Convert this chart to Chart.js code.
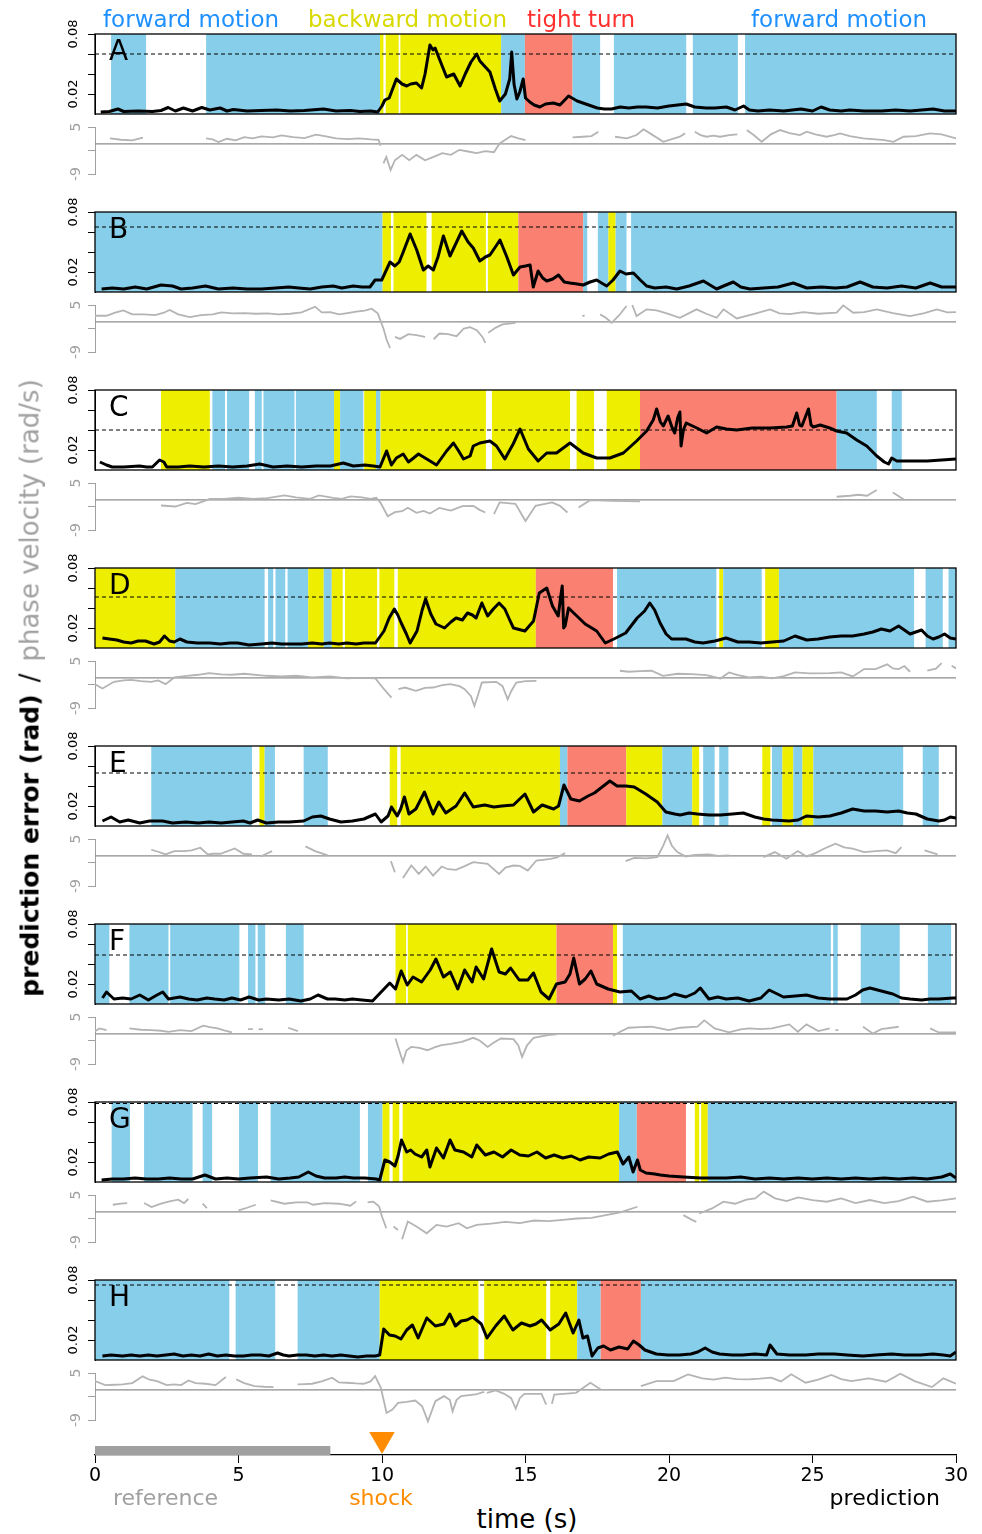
<!DOCTYPE html>
<html lang="en">
<head>
<meta charset="UTF-8">
<title>prediction error / phase velocity</title>
<script src="https://cdn.jsdelivr.net/npm/chart.js"></script>
<style>
  body { margin: 0; background: #fff; font-family: "DejaVu Sans", sans-serif; }
  #wrap { position: relative; width: 982px; height: 1534px; overflow: hidden; }
  #wrap canvas { position: absolute; }
  .txt { position: absolute; white-space: nowrap; line-height: 1; }
</style>
</head>
<body>
<div id="wrap"></div>
<script>
// ---- data ----
// behaviour bands: [start s, end s, state]  F = forward, B = backward, T = tight turn
const segA = [[0.56,1.78,'F'],[3.87,9.93,'F'],[9.93,10.05,'B'],[10.13,10.58,'B'],[10.64,14.15,'B'],[14.15,14.98,'F'],[14.98,16.64,'T'],[16.64,17.6,'F'],[18.08,20.6,'F'],[20.83,22.4,'F'],[22.65,30,'F']];
const segB = [[0,10.02,'F'],[10.02,10.31,'B'],[10.4,11.55,'B'],[11.73,13.62,'B'],[13.69,14.75,'B'],[14.75,17.01,'T'],[17.01,17.15,'F'],[17.52,17.89,'F'],[17.89,18.14,'B'],[18.14,18.52,'F'],[18.68,30,'F']];
const segC = [[2.3,4.0,'B'],[4.09,4.53,'F'],[4.6,5.37,'F'],[5.57,5.81,'F'],[5.87,6.95,'F'],[7.0,8.33,'F'],[8.33,8.54,'B'],[8.54,9.35,'F'],[9.38,9.79,'B'],[9.79,9.95,'F'],[9.95,13.62,'B'],[13.83,16.55,'B'],[16.78,17.39,'B'],[17.83,18.99,'B'],[18.99,25.84,'T'],[25.84,27.24,'F'],[27.76,28.11,'F']];
const segD = [[0,2.8,'B'],[2.8,5.91,'F'],[6.03,6.21,'F'],[6.29,6.63,'F'],[6.71,7.43,'F'],[7.43,7.97,'B'],[7.97,8.25,'F'],[8.25,8.63,'B'],[8.71,9.83,'B'],[9.91,10.43,'B'],[10.55,15.36,'B'],[15.36,18.05,'T'],[18.19,21.65,'F'],[21.75,21.89,'B'],[21.89,23.23,'F'],[23.35,23.83,'B'],[23.83,28.54,'F'],[28.94,29.54,'F'],[29.74,30,'F']];
const segE = [[1.96,5.47,'F'],[5.73,5.91,'B'],[5.91,6.27,'F'],[7.27,8.11,'F'],[10.27,10.53,'B'],[10.65,16.2,'B'],[16.2,16.46,'F'],[16.46,18.51,'T'],[18.51,19.77,'B'],[19.77,20.81,'F'],[20.81,21.05,'B'],[21.19,21.59,'F'],[21.75,22.07,'F'],[23.25,23.53,'B'],[23.59,23.95,'F'],[23.95,24.33,'B'],[24.33,24.65,'F'],[24.65,25.03,'B'],[25.03,28.16,'F'],[28.84,29.4,'F']];
const segF = [[0,0.5,'F'],[1.2,2.56,'F'],[2.62,5.03,'F'],[5.33,5.59,'F'],[5.67,5.93,'F'],[6.65,7.27,'F'],[10.47,10.84,'B'],[10.9,16.08,'B'],[16.08,18.05,'T'],[18.05,18.19,'B'],[18.39,25.64,'F'],[25.72,25.88,'F'],[26.68,28.04,'F'],[29.02,29.83,'F']];
const segG = [[0.58,1.22,'F'],[1.71,3.4,'F'],[3.75,4.08,'F'],[5.02,5.68,'F'],[6.12,9.23,'F'],[9.51,10.02,'F'],[10.02,10.26,'B'],[10.37,10.6,'B'],[10.72,18.26,'B'],[18.26,18.88,'F'],[18.88,20.59,'T'],[20.9,21.05,'B'],[21.12,21.35,'B'],[21.35,30,'F']];
const segH = [[0,4.68,'F'],[4.9,6.28,'F'],[7.06,9.92,'F'],[9.92,13.36,'B'],[13.56,15.72,'B'],[15.86,16.8,'B'],[16.8,17.62,'F'],[17.62,19.02,'T'],[19.02,30,'F']];

// prediction error, [time s, error in 0.001 rad]
const errA = [[0.2,2],[0.5,2.5],[0.8,5],[1.0,2.5],[1.5,3],[2.0,2.5],[2.3,3.5],[2.55,6.5],[2.8,3],[3.08,6],[3.4,3],[3.72,6.5],[4.0,4],[4.36,6],[4.6,3],[4.82,4.5],[5.3,3],[5.8,3.5],[6.33,4],[6.8,3],[7.3,3.5],[7.96,5],[8.4,3],[8.9,3.5],[9.23,2.5],[9.6,3],[9.85,2],[10.0,8],[10.1,14],[10.25,16],[10.5,35],[10.7,30],[10.86,28],[11.0,30],[11.2,31],[11.38,26],[11.5,40],[11.67,69],[11.78,64],[11.85,66],[12.0,55],[12.25,37],[12.5,40],[12.72,28],[12.9,40],[13.1,52],[13.3,60],[13.41,53],[13.6,47],[13.76,42],[13.95,25],[14.1,13],[14.3,20],[14.45,35],[14.52,62],[14.6,30],[14.7,15],[14.8,22],[14.92,35],[15.0,16],[15.15,12],[15.3,9],[15.5,7],[15.7,10],[15.97,11],[16.2,9],[16.5,18],[16.8,13],[17.0,11],[17.3,8],[17.5,6],[17.75,5],[18.0,5],[18.3,7],[18.6,6],[18.9,7],[19.2,7],[19.6,6],[20.0,8],[20.3,9],[20.6,10],[20.9,7],[21.3,6],[21.6,6],[22.0,7],[22.3,4],[22.6,8],[22.8,4],[23.1,3],[23.5,4],[24.0,3],[24.6,5],[25.0,3],[25.3,7],[25.6,4],[26.0,3],[26.3,4],[26.8,3],[27.4,3],[27.9,4],[28.4,3],[28.8,4],[29.2,5],[29.6,3],[30,3]];
const errB = [[0.23,3],[0.6,4],[1.0,3],[1.4,5],[1.8,3],[2.3,7],[2.7,6],[3.0,3],[3.4,4],[3.85,6],[4.3,3],[4.8,4],[5.3,3],[5.8,3],[6.3,4],[6.75,5],[7.1,4],[7.5,3],[7.9,5],[8.3,6],[8.6,4],[9.0,6],[9.3,5],[9.58,5],[9.76,12],[9.99,12],[10.28,30],[10.45,26],[10.6,30],[10.74,40],[10.98,58],[11.21,42],[11.44,22],[11.61,26],[11.79,22],[11.95,35],[12.14,56],[12.37,36],[12.55,47],[12.78,61],[13.0,50],[13.18,44],[13.41,31],[13.6,35],[13.76,37],[13.95,45],[14.11,52],[14.35,35],[14.58,17],[14.81,25],[15.0,26],[15.16,27],[15.27,5],[15.44,21],[15.6,14],[15.74,11],[15.95,13],[16.15,17],[16.35,10],[16.55,9],[16.8,8],[17.01,7],[17.25,10],[17.48,12],[17.65,9],[17.83,6],[18.05,12],[18.29,21],[18.5,18],[18.76,19],[19.0,12],[19.22,6],[19.5,4],[19.9,5],[20.27,3],[20.7,6],[21.2,11],[21.66,3],[21.9,6],[22.24,10],[22.5,5],[22.82,3],[23.3,4],[23.8,5],[24.33,9],[24.8,4],[25.3,5],[25.8,4],[26.2,5],[26.66,10],[27.1,5],[27.6,4],[28.1,6],[28.6,4],[29.1,9],[29.5,5],[30,5]];
const errC = [[0.17,8],[0.4,5],[0.6,3],[1.0,3],[1.55,4],[1.8,3],[2.0,3],[2.25,10],[2.4,8],[2.5,3],[2.9,3],[3.3,4],[3.8,3],[4.3,4],[4.8,3],[5.3,4],[5.74,6],[6.2,3],[6.7,4],[7.2,3],[7.7,4],[8.2,4],[8.65,7],[9.0,4],[9.4,5],[9.7,4],[9.93,3],[10.16,19],[10.33,5],[10.5,12],[10.74,16],[10.92,8],[11.1,12],[11.27,16],[11.56,11],[11.9,5],[12.25,19],[12.49,27],[12.65,20],[12.84,11],[13.07,14],[13.18,24],[13.41,27],[13.76,29],[13.99,24],[14.28,11],[14.57,26],[14.81,41],[15.1,21],[15.44,9],[15.74,17],[16.08,17],[16.55,27],[17.01,17],[17.48,12],[17.94,12],[18.41,17],[18.87,29],[19.22,39],[19.45,50],[19.57,61],[19.7,48],[19.8,44],[19.97,54],[20.1,43],[20.2,37],[20.3,52],[20.38,58],[20.42,24],[20.5,40],[20.6,47],[20.97,42],[21.31,37],[21.66,43],[22.0,41],[22.36,40],[22.9,42],[23.52,42],[24.1,43],[24.3,44],[24.45,57],[24.55,45],[24.63,44],[24.86,61],[24.95,45],[25.03,43],[25.27,45],[25.6,42],[25.84,39],[26.19,37],[26.54,30],[26.89,24],[27.24,14],[27.5,8],[27.65,6],[27.76,12],[27.94,9],[28.5,9],[29.0,9],[29.5,10],[30,11]];
const errD = [[0.26,10],[0.5,9],[0.76,8],[1.0,6],[1.26,5],[1.5,7],[1.76,7],[2.06,4],[2.25,6],[2.42,12],[2.6,7],[2.76,6],[2.96,9],[3.2,6],[3.56,5],[4.0,5],[4.37,4],[4.7,5],[4.97,5],[5.37,3],[5.8,4],[6.17,5],[6.5,4],[6.77,4],[7.2,4],[7.57,5],[7.9,4],[8.17,5],[8.5,4],[8.77,5],[9.1,4],[9.37,5],[9.77,5],[10.07,17],[10.25,30],[10.43,39],[10.55,33],[10.67,25],[10.85,14],[10.98,5],[11.22,17],[11.4,38],[11.52,49],[11.7,34],[11.88,24],[12.18,20],[12.4,26],[12.58,30],[12.8,28],[12.98,35],[13.15,33],[13.28,30],[13.48,45],[13.68,32],[13.88,39],[14.08,45],[14.28,39],[14.45,28],[14.58,20],[14.98,17],[15.28,27],[15.48,55],[15.74,60],[15.94,42],[16.14,32],[16.22,50],[16.28,62],[16.33,20],[16.38,22],[16.5,40],[16.68,35],[17.08,24],[17.48,17],[17.78,5],[18.08,9],[18.49,15],[18.89,30],[19.15,37],[19.33,45],[19.5,38],[19.69,25],[19.9,14],[20.09,9],[20.59,9],[20.9,6],[21.19,5],[21.6,7],[21.99,10],[22.4,6],[22.79,6],[23.2,5],[23.59,6],[24.0,7],[24.39,12],[24.8,8],[25.2,9],[25.6,11],[26.0,12],[26.4,12],[26.8,14],[27.1,16],[27.4,19],[27.7,17],[28.0,22],[28.2,18],[28.4,14],[28.6,16],[28.8,18],[29.0,12],[29.2,9],[29.4,11],[29.6,14],[29.8,10],[30,9]];
const errE = [[0.26,5],[0.56,9],[0.86,4],[1.16,6],[1.56,3],[1.9,5],[2.36,5],[2.7,3],[3.16,4],[3.6,3],[3.97,4],[4.4,3],[4.77,4],[5.17,5],[5.4,3],[5.67,6],[5.97,3],[6.4,4],[6.77,4],[7.27,5],[7.57,9],[7.87,10],[8.17,7],[8.57,4],[8.97,5],[9.37,7],[9.77,12],[9.97,4],[10.21,10],[10.33,19],[10.53,10],[10.65,17],[10.78,29],[10.94,12],[11.18,17],[11.48,34],[11.78,12],[11.98,24],[12.22,13],[12.58,20],[12.88,33],[13.18,19],[13.58,21],[13.9,19],[14.18,20],[14.58,21],[14.98,32],[15.28,14],[15.58,21],[15.98,17],[16.15,20],[16.34,41],[16.58,27],[16.88,25],[17.18,30],[17.4,33],[17.58,37],[17.94,45],[18.19,40],[18.5,40],[18.79,39],[19.19,32],[19.59,24],[19.89,14],[20.2,12],[20.39,11],[20.7,13],[20.99,12],[21.4,11],[21.79,11],[22.2,12],[22.59,13],[22.99,9],[23.3,7],[23.59,6],[24.19,5],[24.5,6],[24.79,10],[25.2,9],[25.6,10],[26.0,13],[26.4,17],[26.8,15],[27.2,15],[27.6,14],[28.0,15],[28.3,13],[28.6,12],[29.0,7],[29.4,5],[29.6,6],[29.8,9],[30,8]];
const errF = [[0.26,6],[0.4,12],[0.66,5],[0.96,6],[1.26,5],[1.56,9],[1.86,4],[2.16,9],[2.36,12],[2.56,5],[2.96,7],[3.26,5],[3.56,4],[3.9,6],[4.17,5],[4.5,4],[4.77,6],[5.07,4],[5.37,7],[5.7,4],[5.97,5],[6.4,4],[6.77,5],[7.17,3],[7.5,5],[7.77,9],[8.1,5],[8.37,5],[8.7,4],[8.97,5],[9.3,4],[9.67,3],[9.97,12],[10.27,21],[10.47,15],[10.67,33],[10.88,19],[11.08,27],[11.38,22],[11.68,34],[11.88,45],[12.14,27],[12.38,32],[12.64,15],[12.88,34],[13.14,22],[13.28,37],[13.54,25],[13.82,55],[14.08,32],[14.3,30],[14.48,36],[14.78,24],[15.08,24],[15.28,31],[15.54,12],[15.82,5],[16.08,20],[16.38,22],[16.55,30],[16.68,46],[16.88,20],[17.08,25],[17.28,33],[17.48,20],[17.88,15],[18.29,12],[18.69,13],[18.99,5],[19.3,8],[19.59,5],[19.9,6],[20.19,10],[20.59,7],[20.9,11],[21.09,16],[21.39,5],[21.7,7],[21.99,5],[22.4,6],[22.79,3],[23.2,6],[23.49,14],[23.99,7],[24.4,8],[24.79,9],[25.2,6],[25.6,5],[26.2,5],[26.5,9],[26.75,14],[27.0,16],[27.4,13],[27.8,10],[28.1,6],[28.4,5],[28.8,4],[29.1,5],[29.4,5],[29.9,6],[30,6]];
const errG = [[0.23,2],[0.6,3],[1.0,3],[1.4,4],[1.8,3],[2.2,3],[2.6,4],[3.0,3],[3.4,3],[3.83,7],[4.2,3],[4.6,4],[5.0,3],[5.4,4],[5.98,5],[6.4,3],[6.8,4],[7.1,5],[7.43,10],[7.7,6],[8.0,4],[8.4,4],[8.7,5],[9.0,4],[9.4,4],[9.8,3],[9.92,2],[10.1,22],[10.27,20],[10.45,16],[10.56,26],[10.68,42],[10.86,30],[11.0,32],[11.15,28],[11.38,25],[11.56,32],[11.67,15],[11.9,34],[12.14,24],[12.37,42],[12.54,32],[12.84,30],[13.13,25],[13.3,37],[13.6,27],[13.9,30],[14.2,25],[14.5,32],[14.8,27],[15.1,26],[15.4,30],[15.7,24],[16.0,27],[16.3,24],[16.6,26],[16.9,22],[17.2,25],[17.6,24],[17.9,28],[18.2,30],[18.4,18],[18.6,25],[18.75,10],[18.9,22],[19.0,12],[19.2,9],[19.5,8],[19.7,7],[20.0,6],[20.5,5],[21.1,4],[21.5,4],[22,4],[22.5,5],[23,3],[23.5,4],[24,3],[24.5,4],[25,3],[25.5,4],[26,3],[26.5,4],[27,3],[27.5,4],[28,3],[28.5,4],[29,3],[29.5,5],[29.8,8],[30,4]];
const errH = [[0.26,4],[0.56,5],[0.96,4],[1.26,5],[1.56,4],[1.86,5],[2.16,4],[2.46,5],[2.76,6],[3.06,4],[3.36,5],[3.66,4],[3.96,6],[4.26,4],[4.56,5],[4.86,4],[5.16,4],[5.46,5],[5.76,5],[6.06,4],[6.36,7],[6.56,5],[6.76,4],[7.06,5],[7.36,5],[7.66,4],[7.96,5],[8.26,4],[8.56,5],[8.86,4],[9.16,3],[9.46,4],[9.76,4],[9.92,5],[10.06,31],[10.26,25],[10.46,24],[10.66,21],[10.86,30],[11.06,35],[11.26,22],[11.56,42],[11.86,34],[12.16,36],[12.36,46],[12.56,34],[12.76,39],[12.96,40],[13.16,43],[13.46,36],[13.66,22],[13.96,34],[14.26,44],[14.56,30],[14.86,37],[15.16,34],[15.36,36],[15.56,40],[15.86,30],[16.16,36],[16.4,47],[16.66,27],[16.86,40],[17.0,22],[17.16,24],[17.32,4],[17.52,12],[17.72,14],[17.96,10],[18.26,13],[18.56,11],[18.76,19],[18.96,15],[19.16,10],[19.56,6],[19.96,5],[20.36,5],[20.76,6],[21.0,8],[21.26,12],[21.5,8],[21.76,6],[22.2,5],[22.56,5],[23.0,6],[23.4,5],[23.52,15],[23.76,6],[24.2,5],[24.76,5],[25.2,6],[25.76,6],[26.2,5],[26.76,4],[27.2,5],[27.76,6],[28.2,5],[28.76,5],[29.2,6],[29.56,5],[29.8,4],[30,8]];

// phase velocity, [time s, rad/s]; null = no value
const velA = [[0.52,1.6],[0.9,1.2],[1.3,1.0],[1.67,1.8],[2.5,null],[3.87,1.6],[4.1,1.3],[4.3,0.5],[4.6,1.5],[4.9,1.0],[5.2,2.0],[5.5,1.6],[5.8,2.2],[6.2,1.9],[6.5,2.5],[6.9,2.0],[7.3,1.7],[7.7,2.7],[8.0,2.3],[8.4,1.6],[8.8,1.4],[9.2,1.6],[9.6,1.3],[9.88,1.2],[9.95,-0.6],[10.0,null],[10.05,-5.8],[10.15,-3.9],[10.3,-7.8],[10.45,-4.9],[10.7,-3.3],[10.95,-4.9],[11.2,-3.3],[11.5,-4.9],[11.8,-3.9],[12.1,-2.8],[12.4,-3.3],[12.7,-1.8],[13.0,-2.3],[13.3,-2.8],[13.6,-2.2],[13.9,-2.5],[14.1,0.1],[14.5,2.3],[14.75,1.6],[15.0,1.1],[15.8,null],[16.64,1.9],[17.0,2.1],[17.3,2.3],[17.54,3.6],[17.8,null],[18.12,2.1],[18.53,1.6],[18.87,2.6],[19.11,4.3],[19.34,3.1],[19.8,0.6],[20.38,2.1],[20.56,3.1],[20.7,null],[20.9,3.6],[21.1,2.6],[21.31,2.1],[21.55,2.4],[21.78,2.1],[22.1,2.6],[22.38,2.8],[22.55,null],[22.71,4.1],[22.95,2.6],[23.23,0.6],[23.55,2.8],[23.87,4.1],[24.2,3.2],[24.56,2.6],[24.8,3.6],[25.1,2.8],[25.49,2.1],[25.75,2.6],[25.96,3.1],[26.3,2.3],[26.77,1.6],[27.2,1.3],[27.5,1.1],[27.82,0.6],[28.17,2.1],[28.6,2.3],[29.09,3.1],[29.5,2.8],[30,1.6]];
const velB = [[0,1.8],[0.4,1.8],[0.7,2.7],[0.99,3.4],[1.3,2.2],[1.7,2.2],[2.1,2.0],[2.4,2.7],[2.6,3.5],[2.9,2.2],[3.3,1.4],[3.7,2.0],[4.1,2.2],[4.4,2.8],[4.8,2.5],[5.2,2.6],[5.6,2.4],[6.0,2.5],[6.4,2.2],[6.8,2.4],[7.2,2.8],[7.67,4.5],[7.9,2.8],[8.2,2.9],[8.5,2.2],[8.8,2.6],[9.1,3.0],[9.4,3.3],[9.64,3.9],[9.85,2.5],[9.93,0.7],[10.05,-2],[10.16,-5.3],[10.28,-7.8],[10.36,null],[10.45,-4.5],[10.63,-5.1],[10.92,-3.7],[11.2,-4.0],[11.5,-4.5],[11.65,null],[11.8,-5.2],[12.0,-3.5],[12.3,-3.7],[12.6,-4.3],[12.85,-2],[13.07,-1.6],[13.3,-2.5],[13.5,-4.5],[13.6,-6.3],[13.64,null],[13.7,-3.3],[13.95,-1.8],[14.2,-0.8],[14.65,-0.3],[15,null],[16.98,1.7],[17.06,1.9],[17.3,null],[17.6,2.2],[17.8,1.2],[18.0,-0.3],[18.25,1.8],[18.52,4.7],[18.6,null],[18.72,5.0],[18.87,1.7],[19.22,3.7],[19.57,3.4],[19.95,2.4],[20.38,1.2],[20.96,3.7],[21.3,2.4],[21.66,1.2],[21.9,3.7],[22.36,1.0],[22.94,2.3],[23.52,3.7],[23.85,2.5],[24.21,2.3],[24.68,2.9],[25.2,2.4],[25.84,2.7],[26.07,4.9],[26.42,2.7],[26.8,2.9],[27.24,3.7],[27.8,2.6],[28.4,1.7],[28.9,2.6],[29.33,3.7],[29.7,2.8],[30,2.9]];
const velC = [[2.3,-1.7],[2.8,-2.0],[3.2,-0.9],[3.5,-1.3],[3.8,-0.4],[4.0,0.3],[4.5,0.3],[5.0,0.6],[5.5,0.3],[6.0,0.5],[6.6,1.3],[7.0,0.7],[7.5,0.3],[7.8,1.3],[8.3,0.6],[8.6,0.3],[8.9,1.0],[9.3,0.7],[9.6,0.3],[9.8,0.6],[9.95,-0.9],[10.2,-4.9],[10.45,-3.7],[10.7,-3.4],[10.9,-2.4],[11.2,-3.9],[11.45,-3.3],[11.67,-4.1],[12.0,-2.4],[12.4,-3.2],[12.8,-1.9],[13.18,-1.8],[13.4,-3.0],[13.6,-3.8],[13.7,null],[13.9,-4.3],[14.1,-0.8],[14.65,-1.2],[15.0,-6.3],[15.35,-1.8],[15.93,-0.8],[16.2,-1.8],[16.46,-3.8],[16.65,null],[16.85,-2.3],[17.25,-0.1],[18.0,-0.3],[18.99,-0.5],[19.5,null],[25.84,0.9],[26.3,1.2],[26.6,1.5],[26.9,1.2],[27.24,2.9],[27.5,null],[27.8,2.2],[28.2,0]];
const velD = [[0,-1.9],[0.26,-3.2],[0.66,-1.2],[1.0,-0.8],[1.26,-0.6],[1.6,-1.0],[1.96,-1.2],[2.2,-0.8],[2.46,-1.9],[2.76,0.1],[3.2,0.6],[3.6,0.9],[3.97,1.4],[4.4,1.0],[4.77,0.9],[5.2,1.2],[5.97,0.6],[6.5,0.4],[7.0,0.6],[7.57,0.1],[8.2,0.4],[8.77,-0.2],[9.3,0.0],[9.77,-0.2],[10.07,-3.4],[10.33,-5.9],[10.45,null],[10.57,-3.4],[10.8,-2.9],[11.18,-3.9],[11.5,-3.0],[11.78,-2.9],[12.1,-2.2],[12.38,-1.9],[12.7,-2.5],[12.88,-3.4],[13.1,-5.5],[13.22,-8.4],[13.35,-5],[13.48,-1.4],[13.98,-1.2],[14.2,-2.5],[14.38,-6.4],[14.5,-4],[14.68,-1.4],[15.0,-1.0],[15.38,-0.9],[16,null],[18.29,2.1],[18.6,1.8],[19.0,2.0],[19.39,2.1],[19.79,0.6],[20.3,1.2],[20.79,1.1],[21.3,0.8],[21.79,-0.2],[22.09,1.6],[22.4,0.8],[22.79,0.1],[23.2,0.3],[23.59,-0.2],[24.0,0.5],[24.39,1.6],[24.9,1.3],[25.6,1.4],[26.0,1.6],[26.4,0.4],[26.8,2.6],[27.2,2.6],[27.6,4.0],[27.8,2.8],[28.0,2.6],[28.2,3.5],[28.4,1.8],[28.7,null],[29.0,2.1],[29.3,2.7],[29.5,4.4],[29.65,null],[29.85,3.6],[30,2.8]];
const velE = [[1.96,1.8],[2.2,1.2],[2.46,0.4],[2.76,1.4],[3.1,1.4],[3.36,1.6],[3.67,2.4],[3.93,0.4],[4.1,0.6],[4.37,0.6],[4.87,2.2],[5.17,0.6],[5.47,0.4],[5.6,null],[5.77,-0.2],[6.17,1.4],[6.4,null],[7.33,2.8],[7.67,1.4],[8.11,0.1],[9,null],[10.31,-1.6],[10.45,-4.9],[10.6,null],[10.73,-6.6],[11.02,-2.9],[11.28,-5.4],[11.52,-3.2],[11.78,-5.9],[12.08,-3.2],[12.3,-4.0],[12.58,-4.2],[12.9,-3.0],[13.18,-1.9],[13.68,-2.4],[14.08,-5.4],[14.3,-3.5],[14.58,-2.9],[14.8,-3.0],[15.08,-4.4],[15.38,-1.4],[15.88,-0.9],[16.1,-0.5],[16.38,0.8],[17,null],[18.49,-1.6],[18.79,-0.6],[19.2,-0.8],[19.59,-0.4],[19.8,3.0],[19.95,6.1],[20.1,3.0],[20.29,1.1],[20.59,-0.2],[20.9,0.3],[21.39,0.4],[21.7,0.0],[22.09,0.1],[22.5,null],[23.29,-0.4],[23.69,1.1],[24.09,-0.9],[24.49,1.4],[24.79,-0.2],[25.1,0.8],[25.4,2.1],[25.8,3.6],[26.1,2.5],[26.4,2.1],[26.8,1.1],[27.2,1.4],[27.6,1.6],[27.9,0.8],[28.1,2.6],[28.5,null],[28.9,1.6],[29.36,0.4]];
const velF = [[0,0.8],[0.16,1.6],[0.4,1.1],[0.7,null],[1.2,1.6],[1.6,1.2],[1.96,1.1],[2.3,0.9],[2.56,0.6],[2.96,1.1],[3.36,0.8],[3.77,2.4],[4.0,2.0],[4.27,1.6],[4.5,1.0],[4.77,0.4],[5.0,null],[5.33,1.4],[5.5,1.4],[5.6,null],[5.7,1.3],[5.85,1.4],[6.2,null],[6.73,1.8],[7.07,0.8],[8,null],[10.47,-1.4],[10.6,-5],[10.73,-8.4],[10.85,-5],[11.02,-3.9],[11.3,-4.2],[11.58,-4.9],[11.85,-4.0],[12.08,-3.4],[12.4,-3.0],[12.78,-2.4],[13.18,-1.2],[13.4,-2.0],[13.68,-3.9],[13.9,-2.6],[14.14,-1.4],[14.58,-1.6],[14.75,-3.5],[14.88,-6.9],[15.05,-3.5],[15.28,-1.2],[15.78,-0.4],[16.08,-0.2],[17,null],[18.05,-0.6],[18.3,0.6],[18.59,1.8],[19.0,2.0],[19.39,2.1],[19.99,1.1],[20.39,1.8],[20.99,2.1],[21.23,4.0],[21.59,1.6],[22.09,0.4],[22.5,1.3],[22.79,1.6],[23.2,1.4],[23.59,1.6],[24.19,2.8],[24.49,0.6],[24.79,2.8],[25.2,0.8],[25.6,1.6],[25.75,null],[25.8,1.1],[25.9,1.1],[26.2,null],[26.76,2.1],[27.1,0.1],[27.4,1.4],[28.0,2.1],[28.5,null],[29.1,1.6],[29.4,0.4],[30,0.4]];
const velG = [[0.62,2.1],[0.9,2.4],[1.12,2.6],[1.4,null],[1.71,2.6],[1.97,1.4],[2.3,2.4],[2.6,3.1],[2.9,3.6],[3.1,2.6],[3.25,3.8],[3.5,null],[3.75,2.4],[3.9,1.1],[4.5,null],[5.0,0.4],[5.3,1.2],[5.6,2.1],[5.9,null],[6.12,3.4],[6.6,2.4],[7.0,2.8],[7.4,2.8],[7.6,2.1],[8.0,2.6],[8.5,2.4],[8.9,1.8],[9.1,3.1],[9.3,null],[9.5,2.8],[9.7,3.0],[9.9,1.6],[10.0,-1.4],[10.15,-4.9],[10.3,null],[10.4,-4.4],[10.56,-5.4],[10.62,null],[10.7,-8.2],[10.9,-2.9],[11.2,-4.4],[11.56,-6.4],[11.9,-3.9],[12.25,-4.4],[12.67,-3.4],[12.96,-4.9],[13.3,-3.9],[13.8,-3.5],[14.3,-3.0],[14.8,-3.4],[15.3,-2.6],[15.8,-2.8],[16.3,-2.4],[16.8,-2.0],[17.3,-1.8],[17.8,-1.0],[18.3,-0.2],[18.9,1.5],[19.5,null],[20.5,-1.0],[20.8,-2.4],[20.95,-3.0],[21.0,null],[21.05,-0.5],[21.5,1.0],[21.9,3.0],[22.3,2.4],[22.7,3.6],[23.0,4.0],[23.3,6.0],[23.7,4.0],[24.1,3.2],[24.5,4.3],[25.0,3.5],[25.5,3.0],[26.0,4.0],[26.5,2.6],[27.0,3.5],[27.5,2.6],[28.0,3.2],[28.5,4.5],[29.0,3.0],[29.5,3.4],[30,4.0]];
const velH = [[0,2.6],[0.36,1.4],[0.7,1.5],[0.96,1.6],[1.3,2.0],[1.66,4.0],[1.9,3.0],[2.16,2.6],[2.5,1.4],[2.76,1.6],[3.0,1.4],[3.26,2.8],[3.5,2.0],[3.86,1.8],[4.2,1.4],[4.56,3.8],[4.75,null],[4.92,3.1],[5.2,2.0],[5.56,1.1],[5.9,0.9],[6.22,0.8],[6.6,null],[7.06,1.6],[7.3,1.7],[7.56,1.8],[7.9,2.5],[8.26,3.6],[8.5,2.2],[8.76,2.1],[9.1,1.9],[9.36,1.8],[9.6,2.5],[9.76,4.1],[9.96,0.6],[10.16,-6.9],[10.36,-5.9],[10.56,-3.9],[10.86,-3.6],[11.16,-3.2],[11.4,-4.9],[11.6,-9.4],[11.86,-3.4],[12.16,-1.9],[12.36,-3],[12.46,-6.4],[12.6,-3],[12.76,-1.9],[13.26,-1.4],[13.56,-0.6],[13.6,null],[13.66,-0.9],[13.96,-0.2],[14.26,-1.2],[14.5,-2.5],[14.66,-5.6],[14.8,-2.5],[14.96,-1.2],[15.56,-1.2],[15.72,-4.4],[15.8,null],[15.92,-4.2],[16.0,-1.4],[16.76,-0.9],[17.26,2.1],[17.62,0.1],[18,null],[19.02,1.1],[19.56,2.6],[20.16,2.6],[20.66,4.6],[21.16,3.4],[21.56,3.0],[21.96,3.6],[22.36,3.2],[22.76,3.1],[23.16,3.3],[23.56,3.6],[23.9,2.5],[24.26,4.6],[24.76,2.1],[25.2,3.0],[25.66,4.4],[26.0,3.2],[26.36,2.6],[26.96,3.4],[27.56,2.4],[28.06,4.8],[28.56,2.6],[29.16,0.8],[29.56,3.4],[30,1.8]];

// error threshold (dashed), 0.001 rad
const thresholds = [60, 65, 40, 51, 53, 49, 78.5, 75];
const panelLetters = ['A','B','C','D','E','F','G','H'];
const errTicks = [20, 40, 60, 80];
const errTickLabels = ['0.02', '', '', '0.08'];
const velTicks = [5, -2, -9];
const velTickLabels = ['5', '', '-9'];
const timeTicks = [0, 5, 10, 15, 20, 25, 30];
const refWindow = [0, 8.2];
const shockTime = 10;
const stateNames = ['forward motion', 'backward motion', 'tight turn', 'forward motion'];

const segs = [segA, segB, segC, segD, segE, segF, segG, segH];
const errs = [errA, errB, errC, errD, errE, errF, errG, errH];
const vels = [velA, velB, velC, velD, velE, velF, velG, velH];

// ---- drawing ----
Chart.defaults.font.family = '"DejaVu Sans", sans-serif';
Chart.defaults.animation = false;

const bandColor = { F: '#87CEEB', B: '#EEEE00', T: '#FA8072' };
const gray = '#a0a0a0';
const wrap = document.getElementById('wrap');

function addCanvas(left, top, w, h) {
  const c = document.createElement('canvas');
  c.width = w; c.height = h;
  c.style.left = left + 'px'; c.style.top = top + 'px';
  c.style.width = w + 'px'; c.style.height = h + 'px';
  wrap.appendChild(c);
  return c;
}
function addText(text, css) {
  const d = document.createElement('div');
  d.className = 'txt';
  d.innerHTML = text;
  Object.assign(d.style, css);
  wrap.appendChild(d);
  return d;
}
const pts = arr => arr.map(([x, y]) => ({ x, y }));

// coloured behaviour bands behind the error trace + frame
const bandPlugin = {
  id: 'bands',
  beforeDatasetsDraw(chart, args, opts) {
    if (!opts.segments) return;
    const { ctx, chartArea: a, scales: { x } } = chart;
    ctx.save();
    opts.segments.forEach(([s, e, k]) => {
      const x0 = x.getPixelForValue(s), x1 = x.getPixelForValue(e);
      ctx.fillStyle = bandColor[k];
      ctx.fillRect(x0, a.top, x1 - x0, a.bottom - a.top);
    });
    ctx.restore();
  },
  afterDatasetsDraw(chart, args, opts) {
    if (!opts.frame) return;
    const { ctx, chartArea: a } = chart;
    ctx.save();
    ctx.strokeStyle = '#000';
    ctx.lineWidth = 1.3;
    ctx.strokeRect(a.left, a.top, a.right - a.left, a.bottom - a.top);
    ctx.restore();
  }
};

const LEFT = 40, W = 942;   // chart area runs from x=95 to x=956
const xScale = { type: 'linear', min: 0, max: 30, display: false };

panelLetters.forEach((letter, i) => {
  const P = 34 + 178 * i;

  // prediction error panel
  new Chart(addCanvas(LEFT, P - 20, W, 110), {
    type: 'line',
    data: {
      datasets: [
        { data: pts(errs[i]), borderColor: '#000', borderWidth: 3, pointRadius: 0, borderJoinStyle: 'round' },
        { data: [{ x: 0, y: thresholds[i] }, { x: 30, y: thresholds[i] }], borderColor: '#000', borderWidth: 1, borderDash: [4, 3], pointRadius: 0 }
      ]
    },
    options: {
      responsive: false, events: [],
      layout: { padding: { left: 0, right: 26, top: 20, bottom: 10 } },
      plugins: { legend: { display: false }, tooltip: { enabled: false }, bands: { segments: segs[i], frame: true } },
      scales: {
        x: xScale,
        y: {
          min: 0, max: 80,
          afterBuildTicks: s => { s.ticks = errTicks.map(v => ({ value: v })); },
          afterFit: s => { s.width = 55; },
          ticks: { autoSkip: false, callback: (v, k) => errTickLabels[k], color: '#000', font: { size: 13 },
                   minRotation: 90, maxRotation: 90, crossAlign: 'center', padding: 0 },
          grid: { drawOnChartArea: false, tickLength: 7, color: '#000' },
          border: { color: '#000' }
        }
      }
    },
    plugins: [bandPlugin]
  });

  // phase velocity panel
  new Chart(addCanvas(LEFT, P + 73, W, 87), {
    type: 'line',
    data: {
      datasets: [
        { data: pts(vels[i]), borderColor: '#b4b4b4', borderWidth: 1.8, pointRadius: 0, clip: { left: 0, right: 0, top: 10, bottom: 10 } },
        { data: [{ x: 0, y: 0 }, { x: 30, y: 0 }], borderColor: '#8c8c8c', borderWidth: 1.2, pointRadius: 0 }
      ]
    },
    options: {
      responsive: false, events: [],
      layout: { padding: { left: 0, right: 26, top: 20, bottom: 20 } },
      plugins: { legend: { display: false }, tooltip: { enabled: false } },
      scales: {
        x: xScale,
        y: {
          min: -9, max: 5,
          afterBuildTicks: s => { s.ticks = velTicks.map(v => ({ value: v })); },
          afterFit: s => { s.width = 55; },
          ticks: { autoSkip: false, callback: (v, k) => velTickLabels[k], color: gray, font: { size: 14 },
                   minRotation: 90, maxRotation: 90, crossAlign: 'center', padding: 5 },
          grid: { drawOnChartArea: false, tickLength: 7, color: gray },
          border: { color: gray }
        }
      }
    }
  });

  addText(letter, { left: '109px', top: (P + 3) + 'px', fontSize: '28px', lineHeight: '28px', color: '#000' });
});

// time axis with reference window and shock marker
new Chart(addCanvas(LEFT, 1400, W, 100), {
  type: 'line',
  data: {
    datasets: [
      { data: [{ x: shockTime, y: 0.449 }], showLine: false, pointStyle: 'triangle', rotation: 180, pointRadius: 14.7,
        backgroundColor: '#FF8C00', borderWidth: 0, clip: false },
      { data: [{ x: refWindow[0], y: 0.129 }, { x: refWindow[1], y: 0.129 }], borderColor: gray, borderWidth: 9,
        borderCapStyle: 'butt', pointRadius: 0 }
    ]
  },
  options: {
    responsive: false, events: [],
    layout: { padding: { left: 55, right: 26, top: 20, bottom: 0 } },
    plugins: { legend: { display: false }, tooltip: { enabled: false } },
    scales: {
      x: {
        type: 'linear', min: 0, max: 30,
        afterBuildTicks: s => { s.ticks = timeTicks.map(v => ({ value: v })); },
        afterFit: s => { s.height = 45; },
        ticks: { autoSkip: false, maxRotation: 0, color: '#000', font: { size: 19 }, padding: 2 },
        grid: { drawOnChartArea: false, tickLength: 8, color: '#000' },
        border: { color: '#000', width: 1.3 }
      },
      y: { min: 0, max: 1, display: false }
    }
  }
});

// texts
const legendPos = [[103, '#1E90FF'], [308, '#D9D900'], [527, '#FF3030'], [751, '#1E90FF']];
stateNames.forEach((name, k) => {
  addText(name, { left: legendPos[k][0] + 'px', top: '8px', fontSize: '23px', lineHeight: '23px', color: legendPos[k][1] });
});
addText('reference', { left: '113px', top: '1487px', fontSize: '22px', lineHeight: '22px', color: gray });
addText('shock', { left: '381px', top: '1487px', fontSize: '22px', lineHeight: '22px', color: '#FF8C00', transform: 'translateX(-50%)' });
addText('prediction', { left: '940px', top: '1487px', fontSize: '22px', lineHeight: '22px', color: '#000', transform: 'translateX(-100%)' });
addText('time (s)', { left: '527px', top: '1506px', fontSize: '26px', lineHeight: '26px', color: '#000', transform: 'translateX(-50%)' });
addText('<b style="font-size:25px;color:#000">prediction error (rad)</b><span style="color:#000;padding:0 12px">/</span><span style="color:' + gray + '">phase velocity (rad/s)</span>',
  { left: '30px', top: '688px', fontSize: '26px', lineHeight: '26px', transform: 'translate(-50%,-50%) rotate(-90deg)' });
</script>
</body>
</html>
